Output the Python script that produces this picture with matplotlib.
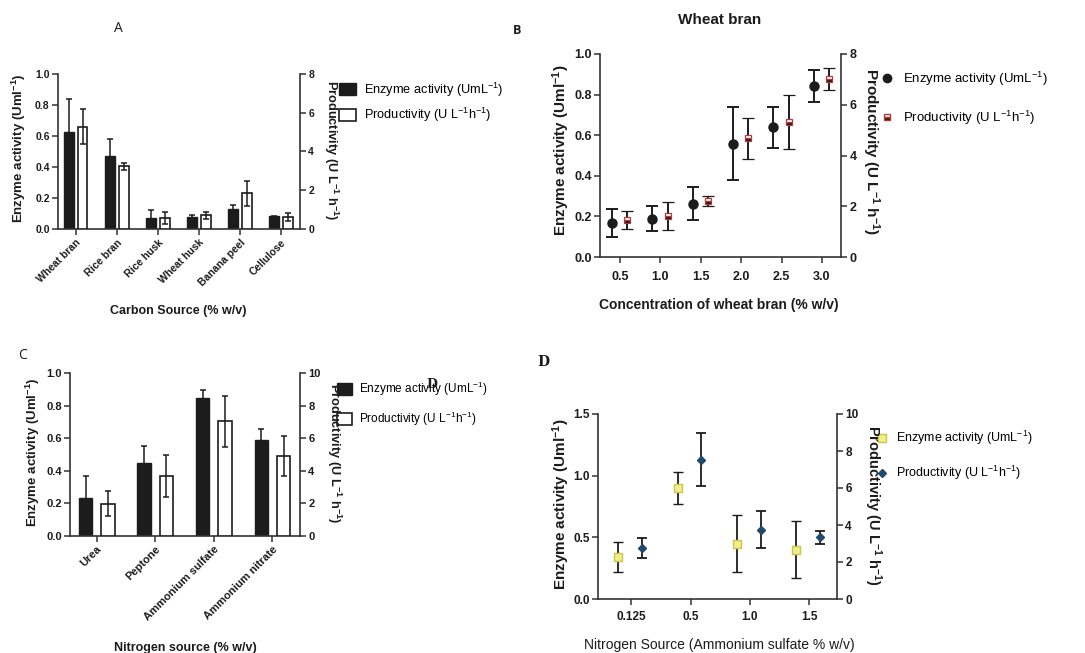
import numpy as np
import matplotlib
matplotlib.use("Agg")
import matplotlib.pyplot as plt
from matplotlib.lines import Line2D
from matplotlib.patches import Patch

plt.rcParams["font.family"] = ["Liberation Sans", "DejaVu Sans"]
plt.rcParams["mathtext.default"] = "regular"

# Panel A: carbon sources
carbon_sources = ["Wheat bran", "Rice bran", "Rice husk", "Wheat husk", "Banana peel", "Cellulose"]
carbon_activity = [0.627, 0.468, 0.071, 0.077, 0.127, 0.082]
carbon_activity_err = [0.21, 0.11, 0.054, 0.015, 0.025, 0.005]
carbon_productivity = [5.27, 3.23, 0.57, 0.70, 1.85, 0.62]
carbon_productivity_err = [0.90, 0.17, 0.32, 0.18, 0.65, 0.20]

# Panel B: wheat bran concentration
bran_conc = [0.5, 1.0, 1.5, 2.0, 2.5, 3.0]
bran_activity = [0.168, 0.189, 0.263, 0.559, 0.638, 0.842]
bran_activity_err = [0.068, 0.060, 0.080, 0.180, 0.100, 0.080]
bran_productivity = [1.45, 1.61, 2.20, 4.67, 5.33, 7.00]
bran_productivity_err = [0.36, 0.55, 0.20, 0.80, 1.06, 0.43]

# Panel C: nitrogen sources
nitrogen_sources = ["Urea", "Peptone", "Ammonium sulfate", "Ammonium nitrate"]
nitrogen_activity = [0.236, 0.447, 0.848, 0.590]
nitrogen_activity_err = [0.133, 0.106, 0.050, 0.068]
nitrogen_productivity = [1.97, 3.71, 7.03, 4.92]
nitrogen_productivity_err = [0.77, 1.29, 1.58, 1.22]

# Panel D: ammonium sulfate concentration
sulfate_labels = ["0.125", "0.5", "1.0", "1.5"]
sulfate_activity = [0.341, 0.900, 0.449, 0.400]
sulfate_activity_err = [0.12, 0.13, 0.23, 0.23]
sulfate_productivity = [2.76, 7.53, 3.75, 3.33]
sulfate_productivity_err = [0.55, 1.42, 1.00, 0.33]

W, H = 1085, 653
DARK = "#1c1c1c"
SPINE = "#333333"

fig = plt.figure(figsize=(W / 100, H / 100), dpi=100)


def px_axes(x0, y0, x1, y1):
    return fig.add_axes([x0 / W, 1 - y1 / H, (x1 - x0) / W, (y1 - y0) / H])


def ftext(x, y, s, **kw):
    fig.text(x / W, 1 - y / H, s, ha="center", va="center", **kw)


def style_pair(ax, ax2, tick_size, weight="bold"):
    for a in (ax, ax2):
        a.spines["top"].set_visible(False)
        a.tick_params(length=4, width=1.1, color=SPINE, labelsize=tick_size,
                      labelcolor=DARK, pad=2)
        for lab in a.get_xticklabels() + a.get_yticklabels():
            lab.set_fontweight(weight)
    ax.spines["right"].set_visible(False)
    for s in ("left", "bottom"):
        ax.spines[s].set_linewidth(1.2)
        ax.spines[s].set_color(SPINE)
    ax2.spines["left"].set_visible(False)
    ax2.spines["bottom"].set_visible(False)
    ax2.spines["right"].set_linewidth(1.2)
    ax2.spines["right"].set_color(SPINE)


def bar_panel(rect, cats, act, act_err, prod, prod_err, left_ticks, right_ticks, xlim, off, width):
    ax = px_axes(*rect)
    ax2 = ax.twinx()
    x = np.arange(len(cats))
    ekw = dict(ecolor=DARK, elinewidth=1.1, capthick=1.1)
    ax.bar(x - off, act, width, color=DARK, edgecolor=DARK, linewidth=1,
           yerr=act_err, capsize=2.5, error_kw=ekw)
    ax2.bar(x + off, prod, width, color="white", edgecolor=DARK, linewidth=1.2,
            yerr=prod_err, capsize=2.5, error_kw=ekw)
    ax.set_xlim(*xlim)
    ax.set_ylim(0, left_ticks[-1])
    ax2.set_ylim(0, right_ticks[-1])
    ax.set_yticks(left_ticks)
    ax.set_yticklabels([f"{v:.1f}" for v in left_ticks])
    ax2.set_yticks(right_ticks)
    ax2.set_yticklabels([str(int(v)) for v in right_ticks])
    ax.set_xticks(x)
    ax.set_xticklabels(cats, rotation=45, ha="right", rotation_mode="anchor")
    return ax, ax2


def bar_legend(ax, x, y, size, spacing):
    ax.legend(handles=[Patch(facecolor=DARK, edgecolor=DARK, label="Enzyme activity (UmL$^{-1}$)"),
                       Patch(facecolor="white", edgecolor=DARK, linewidth=1.2,
                             label="Productivity (U L$^{-1}$h$^{-1}$)")],
              loc="upper left", bbox_to_anchor=(x / W, 1 - y / H), bbox_transform=fig.transFigure,
              frameon=False, fontsize=size, handlelength=1.3, handleheight=1.1,
              handletextpad=0.6, labelspacing=spacing, borderpad=0)


# ---- A ----
axA, axA2 = bar_panel((58, 74, 300, 229), carbon_sources, carbon_activity, carbon_activity_err,
                      carbon_productivity, carbon_productivity_err,
                      [0, 0.2, 0.4, 0.6, 0.8, 1.0], [0, 2, 4, 6, 8],
                      (-0.43, 5.46), 0.17, 0.235)
style_pair(axA, axA2, 7.5)
bar_legend(axA, 333, 74, 9.2, 0.6)
ftext(19, 148, "Enzyme activity (Uml$^{-1}$)", rotation=90, fontsize=9.5, fontweight="bold", color=DARK)
ftext(331, 150, "Productivity (U L$^{-1}$ h$^{-1}$)", rotation=270, fontsize=9.2, fontweight="bold", color=DARK)
ftext(178, 311, "Carbon Source (% w/v)", fontsize=9, fontweight="bold", color=DARK)
ftext(118, 29, "A", fontsize=10, color=DARK, family="Open Sans")

# ---- B ----
axB = px_axes(600, 54, 841, 257)
axB2 = axB.twinx()
ekw = dict(ecolor=DARK, elinewidth=1.4, capthick=1.4, capsize=4.5, linestyle="none")
bx = np.array(bran_conc)
axB.errorbar(bx - 0.1, bran_activity, yerr=bran_activity_err, marker="o", markersize=6.5,
             color=DARK, **ekw)
axB2.errorbar(bx + 0.09, bran_productivity, yerr=bran_productivity_err, marker="s", markersize=5,
              markerfacecolor=DARK, markerfacecoloralt="white", fillstyle="bottom",
              markeredgecolor="#b03a3a", markeredgewidth=0.9, **ekw)
axB.set_xlim(0.252, 3.236)
axB.set_ylim(0, 1.0)
axB2.set_ylim(0, 8)
axB.set_yticks([0, 0.2, 0.4, 0.6, 0.8, 1.0])
axB.set_yticklabels(["0.0", "0.2", "0.4", "0.6", "0.8", "1.0"])
axB2.set_yticks([0, 2, 4, 6, 8])
axB.set_xticks(bran_conc)
axB.set_xticklabels([f"{v:.1f}" for v in bran_conc])
style_pair(axB, axB2, 9, weight="bold")
axB.tick_params(axis="x", pad=6)
axB.legend(handles=[Line2D([], [], marker="o", color=DARK, linestyle="none", markersize=6,
                           label="Enzyme activity (UmL$^{-1}$)"),
                    Line2D([], [], marker="s", linestyle="none", markersize=5,
                           markerfacecolor=DARK, markerfacecoloralt="white", fillstyle="bottom",
                           markeredgecolor="#b03a3a", label="Productivity (U L$^{-1}$h$^{-1}$)")],
           loc="upper left", bbox_to_anchor=(874 / W, 1 - 63 / H), bbox_transform=fig.transFigure,
           frameon=False, fontsize=9.5, handlelength=1.0,
           handletextpad=0.7, labelspacing=1.6, borderpad=0)
ftext(561, 150, "Enzyme activity (Uml$^{-1}$)", rotation=90, fontsize=11, fontweight="bold", color=DARK)
ftext(871, 152, "Productivity (U L$^{-1}$ h$^{-1}$)", rotation=270, fontsize=11, fontweight="bold", color=DARK)
ftext(719, 305, "Concentration of wheat bran (% w/v)", fontsize=10, fontweight="bold", color=DARK)
ftext(720, 20, "Wheat bran", fontsize=11, fontweight="bold", color=DARK)
ftext(517, 31, "B", fontsize=9, color=DARK, fontweight="bold", family="Open Sans")

# ---- C ----
axC, axC2 = bar_panel((70, 373, 300, 536), nitrogen_sources, nitrogen_activity, nitrogen_activity_err,
                      nitrogen_productivity, nitrogen_productivity_err,
                      [0, 0.2, 0.4, 0.6, 0.8, 1.0], [0, 2, 4, 6, 8, 10],
                      (-0.455, 3.47), 0.19, 0.23)
style_pair(axC, axC2, 8)
bar_legend(axC, 331, 374, 8.5, 1.0)
ftext(33, 452, "Enzyme activity (Uml$^{-1}$)", rotation=90, fontsize=9.5, fontweight="bold", color=DARK)
ftext(334, 453, "Productivity (U L$^{-1}$ h$^{-1}$)", rotation=270, fontsize=9.2, fontweight="bold", color=DARK)
ftext(185, 648, "Nitrogen source (% w/v)", fontsize=9, fontweight="bold", color=DARK)
ftext(22, 356, "C", fontsize=10, color=DARK, family="Open Sans")
ftext(432, 385, "D", fontsize=9, color=DARK, fontweight="bold", family="DejaVu Serif")

# ---- D ----
axD = px_axes(598, 414, 837, 599)
axD2 = axD.twinx()
dx = np.arange(len(sulfate_labels))
ekw = dict(ecolor=DARK, elinewidth=1.3, capthick=1.3, capsize=3.5, linestyle="none")
axD.errorbar(dx - 0.22, sulfate_activity, yerr=sulfate_activity_err, marker="s", markersize=6,
             markerfacecolor="#f0ee8a", markeredgecolor="#c9c64a", markeredgewidth=1, **ekw)
axD2.errorbar(dx + 0.18, sulfate_productivity, yerr=sulfate_productivity_err, marker="D",
              markersize=4.5, color="#1f4a6b", **ekw)
axD.set_xlim(-0.565, 3.47)
axD.set_ylim(0, 1.5)
axD2.set_ylim(0, 10)
axD.set_yticks([0, 0.5, 1.0, 1.5])
axD.set_yticklabels(["0.0", "0.5", "1.0", "1.5"])
axD2.set_yticks([0, 2, 4, 6, 8, 10])
axD.set_xticks(dx)
axD.set_xticklabels(sulfate_labels)
style_pair(axD, axD2, 8.5)
axD.tick_params(axis="x", pad=5)
axD.legend(handles=[Line2D([], [], marker="s", linestyle="none", markersize=6,
                           markerfacecolor="#f0ee8a", markeredgecolor="#c9c64a",
                           label="Enzyme activity (UmL$^{-1}$)"),
                    Line2D([], [], marker="D", linestyle="none", markersize=4.5, color="#1f4a6b",
                           label="Productivity (U L$^{-1}$h$^{-1}$)")],
           loc="upper left", bbox_to_anchor=(869 / W, 1 - 423 / H), bbox_transform=fig.transFigure,
           frameon=False, fontsize=9, handlelength=1.0,
           handletextpad=0.7, labelspacing=1.3, borderpad=0)
ftext(561, 504, "Enzyme activity (Uml$^{-1}$)", rotation=90, fontsize=11, fontweight="bold", color=DARK)
ftext(873, 505, "Productivity (U L$^{-1}$ h$^{-1}$)", rotation=270, fontsize=10.5, fontweight="bold", color=DARK)
ftext(719, 645, "Nitrogen Source (Ammonium sulfate % w/v)", fontsize=10, color=DARK)
ftext(543, 362, "D", fontsize=10, color=DARK, fontweight="bold", family="DejaVu Serif")

fig.savefig("out.png", dpi=100)
